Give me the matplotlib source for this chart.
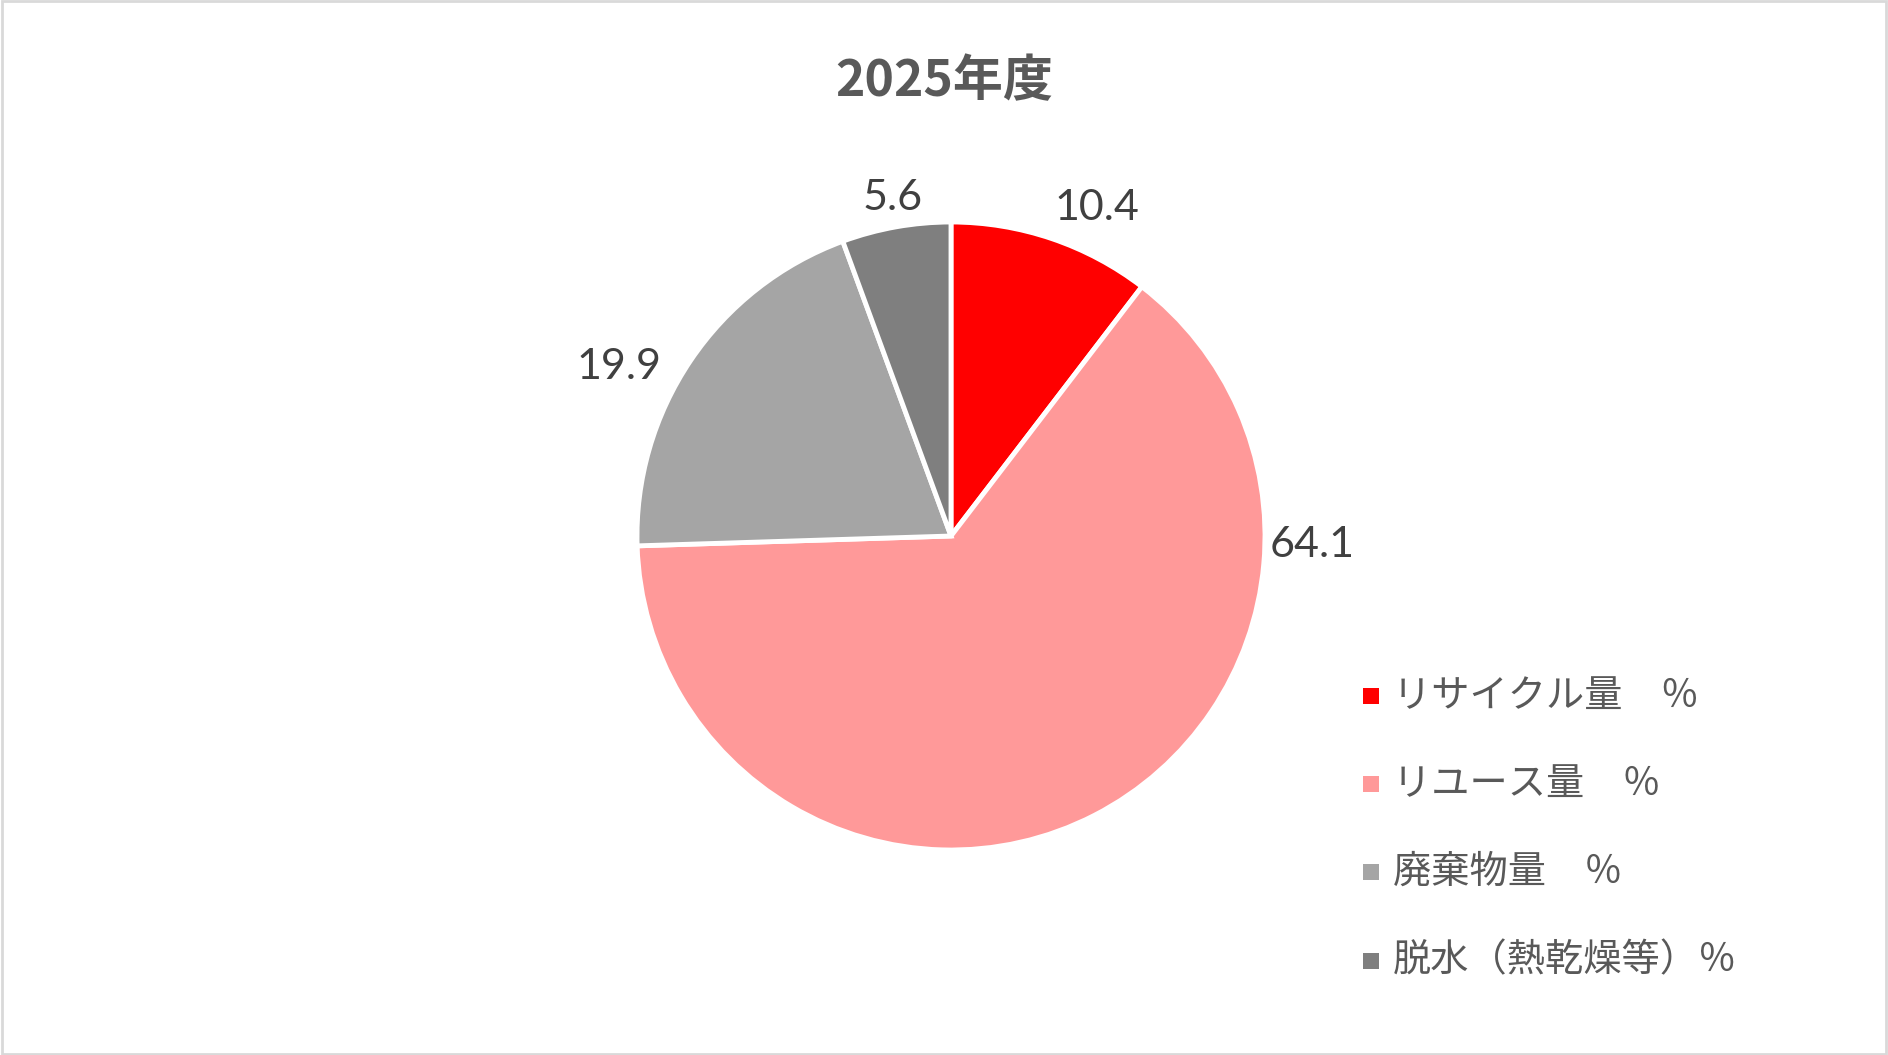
import matplotlib
matplotlib.use("Agg")
import matplotlib.pyplot as plt
from matplotlib.patches import Rectangle

plt.rcParams['font.family'] = ['Noto Sans CJK JP', 'DejaVu Sans']

# data
title = '2025年度'
categories = ['リサイクル量　％', 'リユース量　％', '廃棄物量　％', '脱水（熱乾燥等）％']
values = [10.4, 64.1, 19.9, 5.6]
colors = ['#FF0000', '#FF9999', '#A5A5A5', '#7F7F7F']
label_pos = [(0.465, 1.045), (1.151, -0.030), (-1.058, 0.538), (-0.186, 1.077)]

W, H = 1888, 1055
fig = plt.figure(figsize=(W / 100, H / 100), dpi=100)

# pie axes: center (951, 536), radius ~314 px
cx, cy, r = 951, 536, 314
ax = fig.add_axes([(cx - r) / W, (H - cy - r) / H, 2 * r / W, 2 * r / H])
ax.pie(values, colors=colors, startangle=90, counterclock=False, radius=1,
       wedgeprops=dict(edgecolor='white', linewidth=3.5))
ax.set_xlim(-1, 1)
ax.set_ylim(-1, 1)
ax.set_aspect('equal')
ax.axis('off')

num_font = ['Liberation Sans Narrow', 'Lato', 'DejaVu Sans']
for v, (lx, ly) in zip(values, label_pos):
    ax.text(lx, ly, f'{v:.1f}', ha='center', va='center', fontsize=31,
            color='#404040', family=num_font, clip_on=False)

# title
fig.text(944 / W, 1 - 82 / H, title, ha='center', va='center', fontsize=36,
         fontweight='bold', color='#595959',
         family=['Liberation Sans Narrow', 'Noto Sans CJK JP'])

# legend drawn by hand
rows = [696, 784, 872, 961]
for lab, col, yy in zip(categories, colors, rows):
    fig.add_artist(Rectangle((1363 / W, 1 - (yy + 8) / H), 16 / W, 16 / H,
                             transform=fig.transFigure, color=col, lw=0))
    fig.text(1393 / W, 1 - yy / H, lab, ha='left', va='center', fontsize=27.5,
             color='#595959')

# outer frame
fig.add_artist(Rectangle((0.001, 0.001), 0.998, 0.998, transform=fig.transFigure,
                         fill=False, edgecolor='#D9D9D9', lw=2))

fig.savefig('out.png', dpi=100, facecolor='white')
